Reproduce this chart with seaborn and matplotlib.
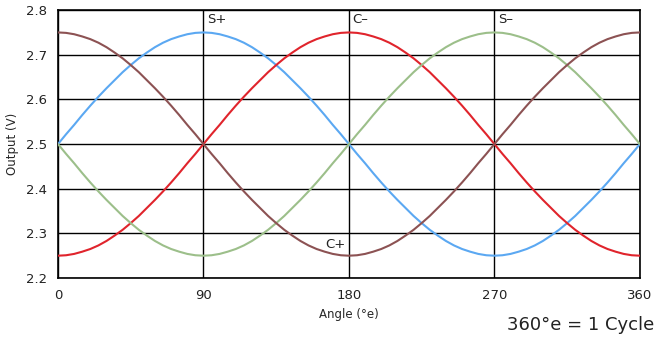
import matplotlib
matplotlib.use("Agg")
import matplotlib.pyplot as plt
import seaborn as sns
import pandas as pd

angle = list(range(0, 361, 5))
s_plus = [2.500, 2.522, 2.543, 2.565, 2.586, 2.606, 2.625, 2.643, 2.661, 2.677,
          2.692, 2.705, 2.717, 2.727, 2.735, 2.741, 2.746, 2.749, 2.750,
          2.749, 2.746, 2.741, 2.735, 2.727, 2.717, 2.705, 2.692, 2.677, 2.661,
          2.643, 2.625, 2.606, 2.586, 2.565, 2.543, 2.522, 2.500,
          2.478, 2.457, 2.435, 2.414, 2.394, 2.375, 2.357, 2.339, 2.323, 2.308,
          2.295, 2.283, 2.273, 2.265, 2.259, 2.254, 2.251, 2.250,
          2.251, 2.254, 2.259, 2.265, 2.273, 2.283, 2.295, 2.308, 2.323, 2.339,
          2.357, 2.375, 2.394, 2.414, 2.435, 2.457, 2.478, 2.500]
c_minus = [2.250,
           2.251, 2.254, 2.259, 2.265, 2.273, 2.283, 2.295, 2.308, 2.323, 2.339,
           2.357, 2.375, 2.394, 2.414, 2.435, 2.457, 2.478, 2.500,
           2.522, 2.543, 2.565, 2.586, 2.606, 2.625, 2.643, 2.661, 2.677,
           2.692, 2.705, 2.717, 2.727, 2.735, 2.741, 2.746, 2.749, 2.750,
           2.749, 2.746, 2.741, 2.735, 2.727, 2.717, 2.705, 2.692, 2.677, 2.661,
           2.643, 2.625, 2.606, 2.586, 2.565, 2.543, 2.522, 2.500,
           2.478, 2.457, 2.435, 2.414, 2.394, 2.375, 2.357, 2.339, 2.323, 2.308,
           2.295, 2.283, 2.273, 2.265, 2.259, 2.254, 2.251, 2.250]
s_minus = [2.500,
           2.478, 2.457, 2.435, 2.414, 2.394, 2.375, 2.357, 2.339, 2.323, 2.308,
           2.295, 2.283, 2.273, 2.265, 2.259, 2.254, 2.251, 2.250,
           2.251, 2.254, 2.259, 2.265, 2.273, 2.283, 2.295, 2.308, 2.323, 2.339,
           2.357, 2.375, 2.394, 2.414, 2.435, 2.457, 2.478, 2.500,
           2.522, 2.543, 2.565, 2.586, 2.606, 2.625, 2.643, 2.661, 2.677,
           2.692, 2.705, 2.717, 2.727, 2.735, 2.741, 2.746, 2.749, 2.750,
           2.749, 2.746, 2.741, 2.735, 2.727, 2.717, 2.705, 2.692, 2.677, 2.661,
           2.643, 2.625, 2.606, 2.586, 2.565, 2.543, 2.522, 2.500]
c_plus = [2.750,
          2.749, 2.746, 2.741, 2.735, 2.727, 2.717, 2.705, 2.692, 2.677, 2.661,
          2.643, 2.625, 2.606, 2.586, 2.565, 2.543, 2.522, 2.500,
          2.478, 2.457, 2.435, 2.414, 2.394, 2.375, 2.357, 2.339, 2.323, 2.308,
          2.295, 2.283, 2.273, 2.265, 2.259, 2.254, 2.251, 2.250,
          2.251, 2.254, 2.259, 2.265, 2.273, 2.283, 2.295, 2.308, 2.323, 2.339,
          2.357, 2.375, 2.394, 2.414, 2.435, 2.457, 2.478, 2.500,
          2.522, 2.543, 2.565, 2.586, 2.606, 2.625, 2.643, 2.661, 2.677,
          2.692, 2.705, 2.717, 2.727, 2.735, 2.741, 2.746, 2.749, 2.750]

series_names = ["S+", "C-", "S-", "C+"]
series_colors = {"S+": "#5ba8f2", "C-": "#e0242c", "S-": "#9cbf8a", "C+": "#8c5253"}
x_ticks = [0, 90, 180, 270, 360]
y_ticks = [2.2, 2.3, 2.4, 2.5, 2.6, 2.7, 2.8]

rows = []
for name, vals in zip(series_names, [s_plus, c_minus, s_minus, c_plus]):
    for a, v in zip(angle, vals):
        rows.append({"angle": a, "value": v, "series": name})
df = pd.DataFrame(rows)

sns.set_style("white")
plt.rcParams['font.family'] = ['DejaVu Sans']

fig = plt.figure(figsize=(6.56, 3.37), dpi=100)
ax = fig.add_axes([0.0884, 0.175, 0.887, 0.795])

sns.lineplot(data=df, x="angle", y="value", hue="series", palette=series_colors,
             hue_order=series_names, ax=ax, legend=False, linewidth=1.5, zorder=3)

ax.set_xlim(0, 360)
ax.set_ylim(2.2, 2.8)
ax.set_xticks(x_ticks)
ax.set_yticks(y_ticks)
ax.set_yticklabels([f"{t:.1f}" for t in y_ticks])
ax.grid(True, color="black", linewidth=1.0)
ax.set_axisbelow(True)
for sp in ax.spines.values():
    sp.set_color("black")
    sp.set_linewidth(1.2)
ax.tick_params(axis="both", direction="out", length=3, width=1, color="black",
               labelsize=9.5, labelcolor="#222222", pad=5)
ax.set_xlabel("Angle (°e)", fontsize=8.5, labelpad=4)
ax.set_ylabel("Output (V)", fontsize=8.5, labelpad=5)

ax.text(92, 2.794, "S+", fontsize=9.5, va="top", ha="left", color="#222222")
ax.text(182, 2.794, "C\u2013", fontsize=9.5, va="top", ha="left", color="#222222")
ax.text(272, 2.794, "S\u2013", fontsize=9.5, va="top", ha="left", color="#222222")
ax.text(178, 2.276, "C+", fontsize=9.5, va="center", ha="right", color="#222222")

fig.text(0.997, 0.01, "360°e = 1 Cycle", fontsize=13, ha="right", va="bottom",
         color="#222222")

fig.savefig("out.png", dpi=100)
